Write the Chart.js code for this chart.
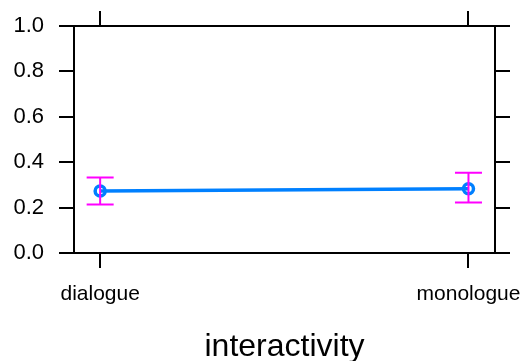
<!DOCTYPE html>
<html>
<head>
<meta charset="utf-8">
<script src="https://cdn.jsdelivr.net/npm/chart.js@4.4.0/dist/chart.umd.min.js"></script>
<style>
html,body{margin:0;padding:0;background:#fff;}
#wrap{width:523px;height:361px;}
</style>
</head>
<body>
<div id="wrap"><canvas id="c" width="523" height="361"></canvas></div>
<script>
const categories = ["dialogue", "monologue"];
const fitValues = [0.273, 0.283];
const lowerValues = [0.214, 0.222];
const upperValues = [0.333, 0.354];
const yTicks = [0.0, 0.2, 0.4, 0.6, 0.8, 1.0];
const xTitle = "interactivity";

const points = categories.map((c, i) => ({x: i + 1, y: fitValues[i]}));

const errorBars = {
  id: 'errorBars',
  afterDatasetsDraw(chart) {
    const ctx = chart.ctx;
    const xs = chart.scales.x, ys = chart.scales.y;
    ctx.save();
    ctx.strokeStyle = '#FF00FF';
    ctx.lineWidth = 2;
    categories.forEach((c, i) => {
      const px = xs.getPixelForValue(i + 1);
      const lo = ys.getPixelForValue(lowerValues[i]);
      const hi = ys.getPixelForValue(upperValues[i]);
      const hw = 13.5;
      ctx.beginPath();
      ctx.moveTo(px, lo); ctx.lineTo(px, hi);
      ctx.moveTo(px - hw, lo); ctx.lineTo(px + hw, lo);
      ctx.moveTo(px - hw, hi); ctx.lineTo(px + hw, hi);
      ctx.stroke();
    });
    ctx.restore();
  }
};

const tickFix = (scale) => { scale.ticks = [1, 2].map(v => ({value: v})); };
const yTickFix = (scale) => { scale.ticks = yTicks.map(v => ({value: v})); };
const noPad = (s) => { s.paddingLeft = 0; s.paddingRight = 0; s.paddingTop = 0; s.paddingBottom = 0; };

const font = 'Liberation Sans, Arial, sans-serif';

new Chart(document.getElementById('c'), {
  type: 'line',
  data: {
    datasets: [{
      data: points,
      borderColor: '#0080FF',
      backgroundColor: 'rgba(0,0,0,0)',
      borderWidth: 3.5,
      pointRadius: 5,
      pointBorderWidth: 3.5,
      pointBorderColor: '#0080FF',
      pointBackgroundColor: 'rgba(0,0,0,0)',
      tension: 0
    }]
  },
  options: {
    responsive: false,
    animation: false,
    layout: {padding: 0},
    plugins: {legend: {display: false}, tooltip: {enabled: false}},
    scales: {
      x: {
        type: 'linear', position: 'bottom',
        min: 0.929, max: 2.072,
        afterBuildTicks: tickFix,
        afterFit: (s) => { s.height = 108; noPad(s); },
        grid: {drawOnChartArea: false, drawTicks: true, tickLength: 15, color: '#000', lineWidth: 2},
        border: {display: true, color: '#000', width: 2},
        ticks: {
          color: '#000', padding: 14, maxRotation: 0, autoSkip: false,
          font: {family: font, size: 21},
          callback: (v) => categories[v - 1]
        },
        title: {display: true, text: xTitle, color: '#000', font: {family: font, size: 32}, padding: {top: 0, bottom: -5}}
      },
      x2: {
        type: 'linear', position: 'top',
        min: 0.929, max: 2.072,
        afterBuildTicks: tickFix,
        afterFit: (s) => { s.height = 26; noPad(s); },
        grid: {drawOnChartArea: false, drawTicks: true, tickLength: 15, color: '#000', lineWidth: 2},
        border: {display: true, color: '#000', width: 2},
        ticks: {display: true, callback: () => '', padding: 0}
      },
      y: {
        type: 'linear', position: 'left',
        min: 0, max: 1,
        afterBuildTicks: yTickFix,
        afterFit: (s) => { s.width = 74; noPad(s); },
        grid: {drawOnChartArea: false, drawTicks: true, tickLength: 15, color: '#000', lineWidth: 2},
        border: {display: true, color: '#000', width: 2},
        ticks: {
          color: '#000', padding: 15,
          font: {family: font, size: 22},
          callback: (v) => v.toFixed(1)
        }
      },
      y2: {
        type: 'linear', position: 'right',
        min: 0, max: 1,
        afterBuildTicks: yTickFix,
        afterFit: (s) => { s.width = 28; noPad(s); },
        grid: {drawOnChartArea: false, drawTicks: true, tickLength: 15, color: '#000', lineWidth: 2},
        border: {display: true, color: '#000', width: 2},
        ticks: {display: true, callback: () => '', padding: 0}
      }
    }
  },
  plugins: [errorBars]
});
</script>
</body>
</html>
